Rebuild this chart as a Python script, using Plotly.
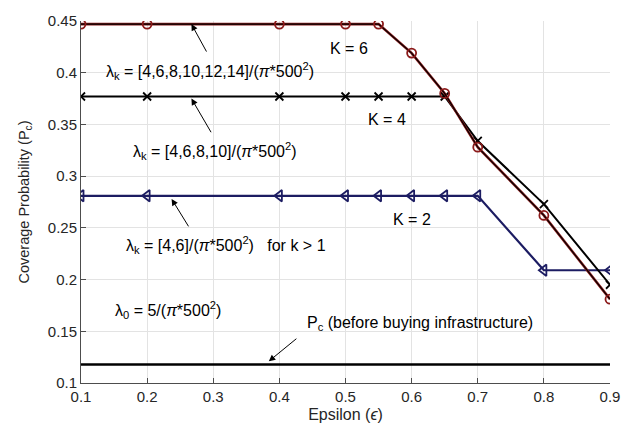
import plotly.graph_objects as go

eps = [0.1, 0.2, 0.4, 0.5, 0.55, 0.6, 0.65, 0.7, 0.8, 0.9]
pc_k6 = [0.447, 0.447, 0.447, 0.447, 0.447, 0.419, 0.380, 0.328, 0.262, 0.181]
pc_k4 = [0.377, 0.377, 0.377, 0.377, 0.377, 0.377, 0.377, 0.334, 0.273, 0.195]
pc_k2 = [0.281, 0.281, 0.281, 0.281, 0.281, 0.281, 0.281, 0.281, 0.209, 0.209]
pc_before = [0.118] * len(eps)

x_ticks = [0.1, 0.2, 0.3, 0.4, 0.5, 0.6, 0.7, 0.8, 0.9]
y_ticks = [0.1, 0.15, 0.2, 0.25, 0.3, 0.35, 0.4, 0.45]

FONT = "Liberation Sans, Arial, Helvetica, sans-serif"
RED = "#8b1a1a"
NAVY = "#1c1c62"

fig = go.Figure()
fig.add_trace(go.Scatter(x=eps, y=pc_before, mode="lines",
                         line=dict(color="black", width=2.5)))
fig.add_trace(go.Scatter(x=eps, y=pc_k2, mode="lines+markers",
                         line=dict(color=NAVY, width=2.2),
                         marker=dict(symbol="triangle-left-open", size=10, color=NAVY,
                                     line=dict(width=1.8, color=NAVY))))
fig.add_trace(go.Scatter(x=eps, y=pc_k4, mode="lines+markers",
                         line=dict(color="black", width=2),
                         marker=dict(symbol="x-thin-open", size=8, color="black",
                                     line=dict(width=1.8, color="black"))))
fig.add_trace(go.Scatter(x=eps, y=pc_k6, mode="lines",
                         line=dict(color=RED, width=2.6)))
fig.add_trace(go.Scatter(x=eps, y=pc_k6, mode="lines+markers",
                         line=dict(color="black", width=1.1),
                         marker=dict(symbol="circle-open", size=9, color=RED,
                                     line=dict(width=1.8, color=RED))))

txt = dict(showarrow=False, xref="x", yref="y", xanchor="center", yanchor="middle",
           font=dict(family=FONT, size=16, color="black"))
labels = [
    (0.295, 0.402, "λ<sub>k</sub> = [4,6,8,10,12,14]/(<i>π</i>*500<sup>2</sup>)"),
    (0.303, 0.324, "λ<sub>k</sub> = [4,6,8,10]/(<i>π</i>*500<sup>2</sup>)"),
    (0.319, 0.233, "λ<sub>k</sub> = [4,6]/(<i>π</i>*500<sup>2</sup>)   for k > 1"),
    (0.231, 0.171, "λ<sub>0</sub> = 5/(<i>π</i>*500<sup>2</sup>)"),
    (0.613, 0.158, "P<sub>c</sub> (before buying infrastructure)"),
    (0.506, 0.423, "K = 6"),
    (0.562, 0.355, "K = 4"),
    (0.601, 0.258, "K = 2"),
]
for x, y, t in labels:
    fig.add_annotation(x=x, y=y, text=t, **txt)

arrows = [
    (0.267, 0.447, 0.291, 0.419),
    (0.267, 0.375, 0.298, 0.341),
    (0.237, 0.278, 0.264, 0.250),
    (0.384, 0.121, 0.428, 0.144),
]
for hx, hy, tx, ty in arrows:
    fig.add_annotation(x=hx, y=hy, ax=tx, ay=ty, xref="x", yref="y", axref="x", ayref="y",
                       text="", showarrow=True, arrowhead=2, arrowsize=1.3,
                       arrowwidth=1, arrowcolor="black")

axis_common = dict(showgrid=True, gridcolor="#e3e3e3", gridwidth=1, zeroline=False,
                   showline=True, linecolor="#4d4d4d", linewidth=1,
                   ticks="inside", ticklen=5, tickcolor="#4d4d4d",
                   tickfont=dict(family=FONT, size=15, color="#262626"))
fig.update_xaxes(range=[0.1, 0.9], tickvals=x_ticks, ticktext=[f"{v:g}" for v in x_ticks],
                 title=dict(text="Epsilon (<i>ϵ</i>)", font=dict(family=FONT, size=16, color="#262626"),
                            standoff=4),
                 **axis_common)
fig.update_yaxes(range=[0.1, 0.45], tickvals=y_ticks, ticktext=[f"{v:g}" for v in y_ticks],
                 title=dict(text="Coverage Probability (P<sub>c</sub>)",
                            font=dict(family=FONT, size=14.5, color="#262626"), standoff=14),
                 **axis_common)
fig.update_layout(width=632, height=436, showlegend=False,
                  margin=dict(l=81, r=19, t=15, b=53),
                  paper_bgcolor="white", plot_bgcolor="white")
fig.write_html("out.html")
